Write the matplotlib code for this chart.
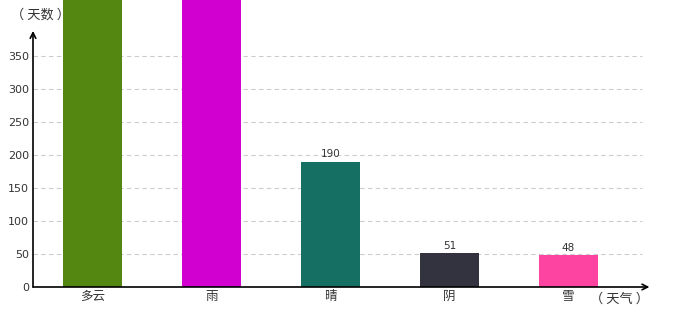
import matplotlib
matplotlib.use("Agg")
import matplotlib.pyplot as plt

plt.rcParams['font.family'] = ['Noto Sans CJK SC', 'DejaVu Sans']

categories = ['多云', '雨', '晴', '阴', '雪']
values = [520, 480, 190, 51, 48]
colors = ['#548712', '#d100d1', '#166f63', '#333340', '#fc44a0']
yticks = [0, 50, 100, 150, 200, 250, 300, 350]

fig = plt.figure(figsize=(6.8, 3.2), dpi=100)
ax = fig.add_axes([33/680, 33/320, 615/680, 254/320])
ax.set_xlim(-0.5, 4.668)
ax.set_ylim(0, 384.8)

for s in ax.spines.values():
    s.set_visible(False)

ax.set_yticks(yticks)
ax.set_yticklabels([str(t) for t in yticks], fontsize=8, color='#333333', family='DejaVu Sans')
ax.tick_params(axis='y', length=0, pad=3)
ax.set_xticks(range(len(categories)))
ax.set_xticklabels(categories, fontsize=9, color='#333333')
ax.tick_params(axis='x', length=0, pad=2)

for t in yticks[1:]:
    ax.plot([-0.5, 4.62], [t, t], color='#cccccc', lw=0.8, ls=(0, (4, 3)), zorder=0)

bars = ax.bar(range(len(categories)), values, width=0.5, color=colors, zorder=2, clip_on=False)
ymax_visible = 430
for i, v in enumerate(values):
    if v < ymax_visible:
        ax.text(i, v + 4, str(v), ha='center', va='bottom', fontsize=7.5, color='#333333',
                family='DejaVu Sans')

# axes with arrows
ax.annotate('', xy=(4.68, 0), xytext=(-0.5, 0), xycoords='data',
            arrowprops=dict(arrowstyle='->', color='black', lw=1.2, shrinkA=0, shrinkB=0),
            annotation_clip=False)
ax.annotate('', xy=(-0.5, 388), xytext=(-0.5, 0), xycoords='data',
            arrowprops=dict(arrowstyle='->', color='black', lw=1.2, shrinkA=0, shrinkB=0),
            annotation_clip=False)

fig.text(11/680, 1 - 15/320, '（ 天数 ）', fontsize=9.5, ha='left', va='center', color='#333333')
fig.text(590/680, 1 - 299/320, '（ 天气 ）', fontsize=9.5, ha='left', va='center', color='#333333')

fig.savefig('out.png', dpi=100)
